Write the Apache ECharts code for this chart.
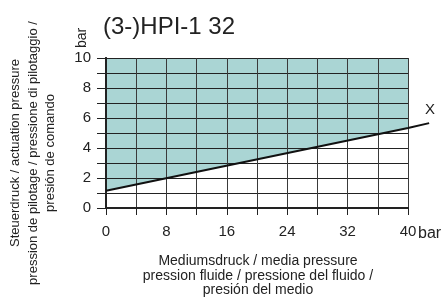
<!DOCTYPE html>
<html>
<head>
<meta charset="utf-8">
<script src="https://cdn.jsdelivr.net/npm/echarts@6/dist/echarts.min.js"></script>
<style>
  html, body { margin: 0; padding: 0; background: #fff; }
  #chart { width: 447px; height: 303px; }
</style>
</head>
<body>
<div id="chart"></div>
<script>
// switching line: actuation pressure vs media pressure (bar)
const linePoints = [[0, 1.15], [40, 5.33], [42.8, 5.66]];
const fillPoints = [[0, 1.15], [40, 5.33]];
const xTicks = [0, 8, 16, 24, 32, 40];
const yTicks = [0, 2, 4, 6, 8, 10];

const titleText = "(3-)HPI-1 32";
const yNameLines = [
  "Steuerdruck / actuation pressure",
  "pression de pilotage / pressione di pilotaggio /",
  "presión de comando"
];
const xNameLines = [
  "Mediumsdruck / media pressure",
  "pression fluide / pressione del fluido /",
  "presión del medio"
];

const FONT = "Liberation Sans, Arial, sans-serif";
const TXT = "#222";

const chart = echarts.init(document.getElementById("chart"));

const hiddenAxis = {
  axisLabel: { show: false },
  axisTick: { show: false },
  splitLine: { show: false },
  axisLine: { show: true, lineStyle: { color: "#222", width: 2 } }
};
const invisible = {
  axisLabel: { show: false }, axisTick: { show: false },
  splitLine: { show: false }, axisLine: { show: false }
};

const option = {
  animation: false,
  grid: [
    { left: 106, top: 58, width: 302, height: 150, containLabel: false },
    // same scale, a little wider, so the line can run past 40 bar
    { left: 106, top: 58, width: 302 * 44 / 40, height: 150, containLabel: false }
  ],
  xAxis: [{
    type: "value",
    min: 0,
    max: 40,
    interval: 4,
    z: 5,
    axisLine: { lineStyle: { color: "#222", width: 2 } },
    axisTick: { show: true, length: 7, lineStyle: { color: "#222", width: 1 } },
    axisLabel: {
      margin: 16,
      color: TXT,
      fontFamily: FONT,
      fontSize: 15,
      formatter: (v) => (xTicks.includes(v) ? String(v) : "")
    },
    splitLine: { show: true, lineStyle: { color: "#3a3a3a", width: 1 } }
  },
  Object.assign({ type: "value", min: 0, max: 40, position: "top", z: 5 }, hiddenAxis),
  Object.assign({ type: "value", min: 0, max: 44, gridIndex: 1 }, invisible)],
  yAxis: [{
    type: "value",
    min: 0,
    max: 10,
    interval: 1,
    z: 5,
    axisLine: { show: true, lineStyle: { color: "#222", width: 2 } },
    axisTick: { show: true, length: 9, lineStyle: { color: "#222", width: 1 } },
    axisLabel: {
      margin: 15,
      color: TXT,
      fontFamily: FONT,
      fontSize: 15,
      formatter: (v) => (yTicks.includes(v) ? String(v) : "")
    },
    splitLine: { show: true, lineStyle: { color: "#222", width: 1 } }
  },
  Object.assign({ type: "value", min: 0, max: 10, position: "right", z: 5 }, hiddenAxis),
  Object.assign({ type: "value", min: 0, max: 10, gridIndex: 1 }, invisible)],
  series: [
    {
      type: "line",
      data: fillPoints,
      symbol: "none",
      z: 1,
      lineStyle: { width: 0 },
      areaStyle: { origin: "end", color: "#aad5d4", opacity: 1 }
    },
    {
      type: "line",
      xAxisIndex: 2,
      yAxisIndex: 2,
      data: linePoints,
      symbol: "none",
      clip: false,
      z: 10,
      lineStyle: { color: "#111", width: 2 }
    }
  ],
  graphic: [
    {
      type: "text", x: 103, y: 27,
      style: { text: titleText, fill: TXT, font: "24px " + FONT, textVerticalAlign: "middle" }
    },
    {
      type: "text", x: 82, y: 38, rotation: Math.PI / 2,
      style: { text: "bar", fill: TXT, font: "14px " + FONT, textAlign: "center", textVerticalAlign: "middle" }
    },
    {
      type: "text", x: 33, y: 153, rotation: Math.PI / 2,
      style: {
        text: yNameLines.join("\n"), fill: TXT, font: "13px " + FONT,
        lineHeight: 17.5, textAlign: "center", textVerticalAlign: "middle"
      }
    },
    {
      type: "text", x: 258, y: 276,
      style: {
        text: xNameLines.join("\n"), fill: TXT, font: "14px " + FONT,
        lineHeight: 14.5, textAlign: "center", textVerticalAlign: "middle"
      }
    },
    {
      type: "text", x: 418, y: 234,
      style: { text: "bar", fill: TXT, font: "16px " + FONT, textAlign: "left", textVerticalAlign: "middle" }
    },
    {
      type: "text", x: 430, y: 110,
      style: { text: "X", fill: TXT, font: "15px " + FONT, textAlign: "center", textVerticalAlign: "middle" }
    }
  ]
};

chart.setOption(option);
</script>
</body>
</html>
